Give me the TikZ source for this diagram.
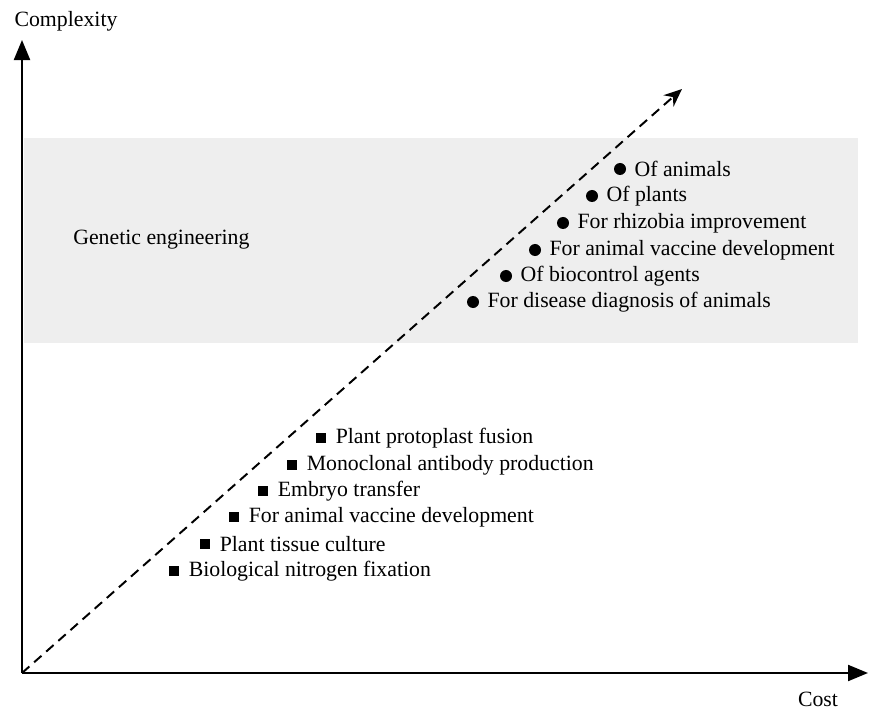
\documentclass[tikz,border=0pt]{standalone}
\usepackage{fontspec}
\setmainfont{Liberation Serif}
\usepackage{xcolor}
\usetikzlibrary{arrows.meta,positioning}

\definecolor{bandgray}{HTML}{EEEEEE}

\begin{document}
\begin{tikzpicture}[x=0.025cm,y=-0.025cm,
  every node/.style={font=\rmfamily\fontsize{15.5}{18}\selectfont},
  dotmark/.style={circle,fill=black,inner sep=0pt,minimum size=3mm},
  boxmark/.style={rectangle,fill=black,inner sep=0pt,minimum size=2.5mm},
  itemtext/.style={inner sep=0pt,anchor=west}]

\useasboundingbox (0,0) rectangle (869,709);

% grey band for genetic engineering
\fill[bandgray] (24,138) rectangle (858,343);

\coordinate (O) at (22,673);
\coordinate (ytip) at (22,40);
\coordinate (xtip) at (868,673);
\coordinate (dtip) at (682,89);

  % axes
\draw[->,>={Stealth[length=5mm,width=4mm,inset=0pt]},line width=1.5pt] (O)--(ytip);
\draw[->,>={Stealth[length=5mm,width=4mm,inset=0pt]},line width=1.5pt] (O)--(xtip);
\draw (66,21) node (yaxis) [inner sep=0pt] {Complexity};
\draw (818,699) node (xaxis) [inner sep=0pt] {Cost};

% dashed diagonal
\draw[->,>={Stealth[length=4.5mm,width=3.8mm]},line width=1.4pt,dash pattern=on 7pt off 4.5pt] (O)--(dtip);

\draw (73,240) node (genetic) [right,inner sep=0pt] {Genetic engineering};

% genetic engineering items
\node (g1) [dotmark] at (620,169) {};
\node (g1t) [itemtext,right=2mm of g1] {Of animals};
\node (g2) [dotmark] at (592,196) {};
\node (g2t) [itemtext,right=2mm of g2] {Of plants};
\node (g3) [dotmark] at (563,223) {};
\node (g3t) [itemtext,right=2mm of g3] {For rhizobia improvement};
\node (g4) [dotmark] at (535,250) {};
\node (g4t) [itemtext,right=2mm of g4] {For animal vaccine development};
\node (g5) [dotmark] at (506,276) {};
\node (g5t) [itemtext,right=2mm of g5] {Of biocontrol agents};
\node (g6) [dotmark] at (473,302) {};
\node (g6t) [itemtext,right=2mm of g6] {For disease diagnosis of animals};

% conventional items
\node (c1) [boxmark] at (321,438) {};
\node (c1t) [itemtext,right=2.3mm of c1] {Plant protoplast fusion};
\node (c2) [boxmark] at (292,465) {};
\node (c2t) [itemtext,right=2.3mm of c2] {Monoclonal antibody production};
\node (c3) [boxmark] at (263,491) {};
\node (c3t) [itemtext,right=2.3mm of c3] {Embryo transfer};
\node (c4) [boxmark] at (234,517) {};
\node (c4t) [itemtext,right=2.3mm of c4] {For animal vaccine development};
\node (c5) [boxmark] at (205,544) {};
\node (c5t) [itemtext,right=2.3mm of c5] {Plant tissue culture};
\node (c6) [boxmark] at (174,571) {};
\node (c6t) [itemtext,right=2.3mm of c6] {Biological nitrogen fixation};
\end{tikzpicture}
\end{document}
